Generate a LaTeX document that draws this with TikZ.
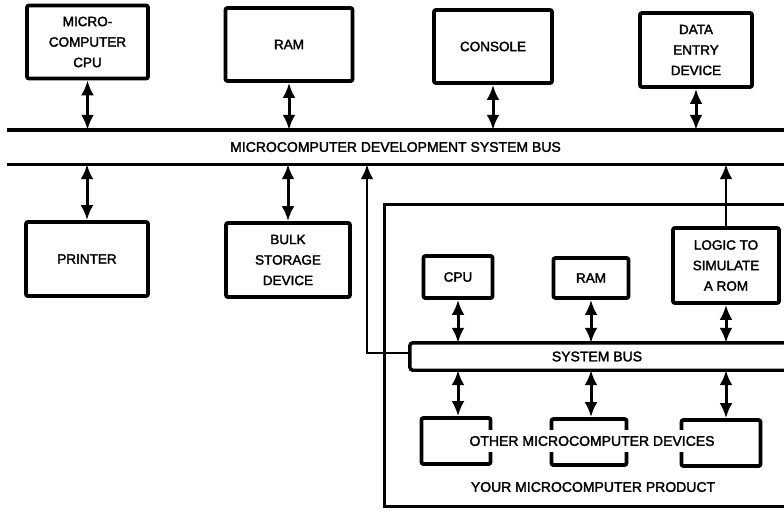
\documentclass[tikz,border=0pt]{standalone}
\usepackage{fontspec}
\setmainfont{Liberation Sans}
\newfontfamily\medfont[FakeBold=2]{Liberation Sans}
\usetikzlibrary{arrows.meta}
\begin{document}
\begin{tikzpicture}[x=1pt,y=-1pt,
  box/.style={draw,line width=3.8pt,rounded corners=2pt,align=center,inner sep=0pt,font=\medfont\fontsize{13.5}{20.5}\selectfont},
  lbl/.style={inner sep=0pt,font=\medfont\fontsize{14}{16}\selectfont},
  busline/.style={line width=3.4pt},
  tip/.style={},
  dbl/.style={line width=3pt,{Latex[length=15pt,width=13pt]}-{Latex[length=15pt,width=13pt]}},
  sgl/.style={line width=2.8pt,-{Latex[length=15pt,width=13pt]}}]
\fill[white] (0,0) rectangle (784,512);
\useasboundingbox (0,0) rectangle (784,512);
% upper row
\node[box,minimum width=121pt,minimum height=73pt] (mcpu) at (87.5,42) {MICRO-\\COMPUTER\\CPU};
\node[box,minimum width=127pt,minimum height=73pt] (ram) at (289,44.5) {RAM};
\node[box,minimum width=118pt,minimum height=73pt] (console) at (493,46.5) {CONSOLE};
\node[box,minimum width=112pt,minimum height=74pt] (data) at (696,50) {DATA\\ENTRY\\DEVICE};
% development system bus
\node[lbl,minimum width=777pt,minimum height=34pt] (bus) at (395.5,147) {MICROCOMPUTER DEVELOPMENT SYSTEM BUS};
\draw[busline] (bus.north west) -- (bus.north east);
\draw[busline] (bus.south west) -- (bus.south east);
% lower row
\node[box,minimum width=122pt,minimum height=74pt] (printer) at (87,259) {PRINTER};
\node[box,minimum width=124pt,minimum height=74pt] (bulk) at (288,260) {BULK\\STORAGE\\DEVICE};
% product
\node[minimum width=399pt,minimum height=301pt,inner sep=0pt] (prod) at (584.5,355.5) {};
\draw[line width=2.8pt] (prod.north east) -- (prod.north west) -- (prod.south west) -- (prod.south east);
\node[box,minimum width=69pt,minimum height=42pt] (cpu) at (458,277) {CPU};
\node[box,minimum width=75pt,minimum height=40pt] (ram2) at (591,278) {RAM};
\node[box,minimum width=106pt,minimum height=75pt] (logic) at (726,265.5) {LOGIC TO\\SIMULATE\\A ROM};
% system bus
\node[lbl,minimum width=374pt,minimum height=27pt] (sbus) at (597,356.5) {SYSTEM BUS};
\draw[busline,rounded corners=3pt] (sbus.north east) -- (sbus.north west) -- (sbus.south west) -- (sbus.south east);
% other devices
\node[box,minimum width=69pt,minimum height=46pt] (dev1) at (456,441) {};
\node[box,minimum width=75pt,minimum height=46pt] (dev2) at (589,442) {};
\node[box,minimum width=79pt,minimum height=46pt] (dev3) at (721,443) {};
\node[lbl,fill=white,inner xsep=3pt,inner ysep=6pt] (devlbl) at (592,441) {OTHER MICROCOMPUTER DEVICES};
\node[lbl] (prodlbl) at (593,487) {YOUR MICROCOMPUTER PRODUCT};
% connectors upper
\draw[dbl] (mcpu.south) -- (mcpu.south |- bus.north);
\draw[dbl] (ram.south) -- (ram.south |- bus.north);
\draw[dbl] (console.south) -- (console.south |- bus.north);
\draw[dbl] (data.south) -- (data.south |- bus.north);
\draw[dbl] (printer.north |- bus.south) -- (printer.north);
\draw[dbl] (bulk.north |- bus.south) -- (bulk.north);
% product connectors
\coordinate (tap) at (367,353);
\draw[sgl] (sbus.west |- tap) -- (tap) -- (tap |- bus.south);
\draw[sgl] (logic.north) -- (logic.north |- bus.south);
\draw[dbl] (cpu.south) -- (cpu.south |- sbus.north);
\draw[dbl] (ram2.south) -- (ram2.south |- sbus.north);
\draw[dbl] (logic.south) -- (logic.south |- sbus.north);
\draw[dbl] (cpu.south |- sbus.south) -- (cpu.south |- dev1.north);
\draw[dbl] (ram2.south |- sbus.south) -- (ram2.south |- dev2.north);
\draw[dbl] (logic.south |- sbus.south) -- (logic.south |- dev3.north);
\end{tikzpicture}
\end{document}
